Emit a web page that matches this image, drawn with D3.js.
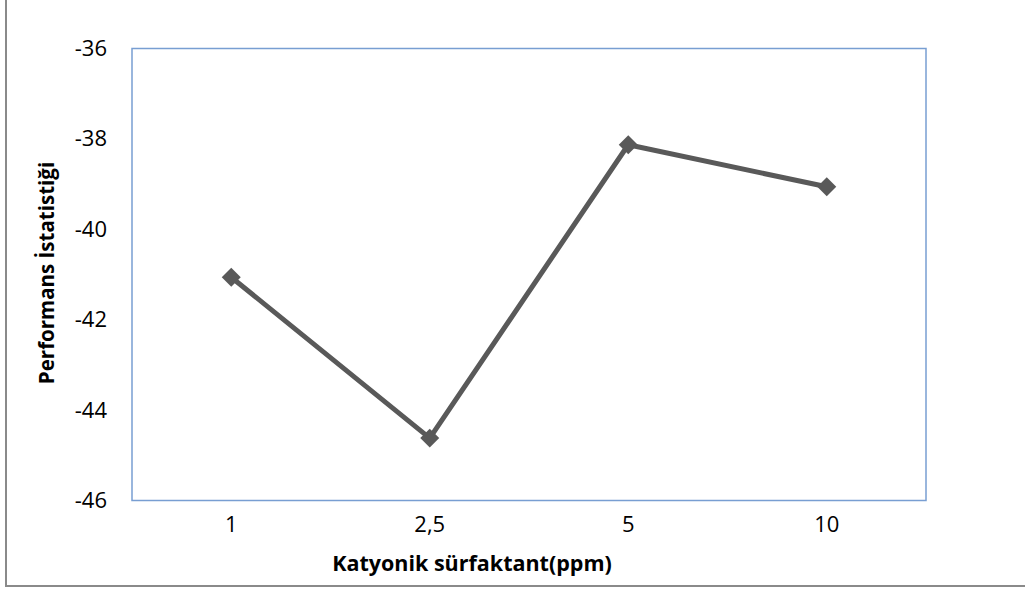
<!DOCTYPE html>
<html>
<head>
<meta charset="utf-8">
<script src="https://cdn.jsdelivr.net/npm/d3@7"></script>
<style>
  html, body { margin: 0; padding: 0; background: #fff; }
  svg { display: block; }
</style>
</head>
<body>
<svg id="chart" width="1025" height="590"></svg>
<script>
// Category labels (surfactant concentration, ppm)
const categories = ["1", "2,5", "5", "10"];
// Performance statistic per concentration
const values = [-41.06, -44.62, -38.13, -39.06];
// Y axis ticks
const yTicks = [-36, -38, -40, -42, -44, -46];

const svg = d3.select("#chart");
const font = "'Open Sans', 'Liberation Sans', sans-serif";

const plot = { left: 132, top: 48.5, right: 926, bottom: 500.5 };

// outer chart frame
svg.append("rect")
  .attr("x", 6).attr("y", -10)
  .attr("width", 1040).attr("height", 596)
  .attr("fill", "none")
  .attr("stroke", "#8a8a8a")
  .attr("stroke-width", 2);

const x = d3.scaleBand()
  .domain(categories)
  .range([plot.left, plot.right]);

const y = d3.scaleLinear()
  .domain([-46, -36])
  .range([plot.bottom, plot.top]);

// plot area border
svg.append("rect")
  .attr("x", plot.left).attr("y", plot.top)
  .attr("width", plot.right - plot.left)
  .attr("height", plot.bottom - plot.top)
  .attr("fill", "none")
  .attr("stroke", "#789ed2")
  .attr("stroke-width", 1.5);

// y axis labels (plain hyphen as minus)
const yAxis = d3.axisLeft(y).tickValues(yTicks).tickSize(0).tickPadding(25)
  .tickFormat(d => String(d));
const gy = svg.append("g").attr("transform", `translate(${plot.left},0)`).call(yAxis);
gy.attr("font-family", font).attr("font-size", 22);
gy.select(".domain").remove();
gy.selectAll("text").attr("fill", "#000");

// x axis labels
const xAxis = d3.axisBottom(x).tickSize(0).tickPadding(16);
const gx = svg.append("g").attr("transform", `translate(0,${plot.bottom})`).call(xAxis);
gx.attr("font-family", font).attr("font-size", 22);
gx.select(".domain").remove();
gx.selectAll("text").attr("fill", "#000");

// series line
const line = d3.line()
  .x((d, i) => x(categories[i]) + x.bandwidth() / 2)
  .y(d => y(d));

svg.append("path")
  .datum(values)
  .attr("d", line)
  .attr("fill", "none")
  .attr("stroke", "#595959")
  .attr("stroke-width", 5)
  .attr("stroke-linejoin", "round");

// diamond markers
svg.selectAll(".marker")
  .data(values)
  .enter().append("path")
  .attr("class", "marker")
  .attr("d", d3.symbol().type(d3.symbolSquare).size(180))
  .attr("transform", (d, i) =>
    `translate(${x(categories[i]) + x.bandwidth() / 2},${y(d)}) rotate(45)`)
  .attr("fill", "#595959");

// axis titles
svg.append("text")
  .attr("x", 472).attr("y", 571)
  .attr("text-anchor", "middle")
  .attr("font-family", font).attr("font-size", 21.5).attr("font-weight", "bold")
  .text("Katyonik sürfaktant(ppm)");

svg.append("text")
  .attr("transform", "translate(54,273) rotate(-90)")
  .attr("text-anchor", "middle")
  .attr("font-family", font).attr("font-size", 20.5).attr("font-weight", "bold")
  .text("Performans İstatistiği");
</script>
</body>
</html>
